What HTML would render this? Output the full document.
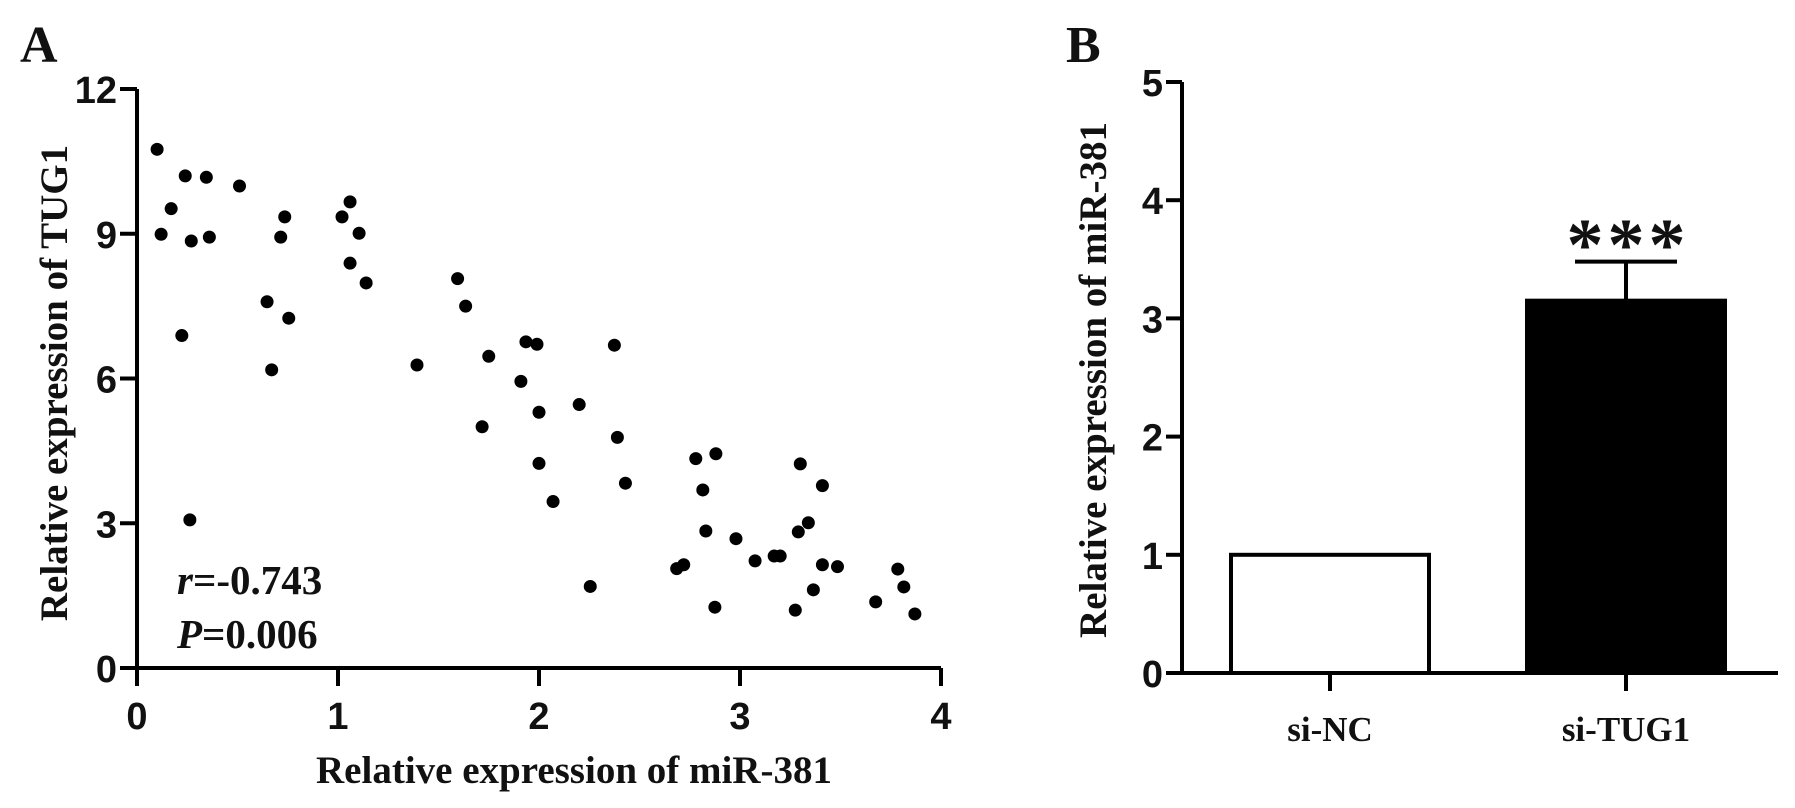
<!DOCTYPE html>
<html><head><meta charset="utf-8"><style>
html,body{margin:0;padding:0;background:#fff;}
svg{display:block;}
.tk{font-family:"Liberation Sans",Arial,sans-serif;font-weight:bold;font-size:38px;fill:#111;}
.tt{font-family:"Liberation Serif","Times New Roman",serif;font-weight:bold;fill:#111;}
</style></head><body>
<svg id="fig" width="1795" height="808" viewBox="0 0 1795 808" xmlns="http://www.w3.org/2000/svg">
<text x="20" y="62" class="tt" font-size="52">A</text>
<text x="1066" y="62" class="tt" font-size="52">B</text>
<g id="scatter"></g>
<g id="bars"></g>
</svg>
<script>
// ---- Panel A data ----
const sxVals = [0.10,0.24,0.345,0.51,0.17,0.12,0.27,0.36,1.06,1.02,0.735,0.715,1.105,1.06,1.14,0.647,0.755,0.223,0.67,0.263,
1.595,1.635,1.393,1.75,1.91,1.935,1.99,1.717,2.0,2.0,2.375,2.2,2.39,2.43,2.07,2.78,2.88,3.3,2.815,3.41,2.83,2.98,3.34,3.29,
2.685,2.72,3.075,3.17,3.2,3.41,3.485,3.365,2.255,2.875,3.275,3.675,3.785,3.815,3.87];
const syVals = [10.75,10.2,10.17,9.99,9.52,8.99,8.85,8.93,9.66,9.35,9.35,8.93,9.01,8.39,7.98,7.59,7.25,6.89,6.18,3.07,
8.07,7.50,6.28,6.46,5.94,6.76,6.71,5.0,5.3,4.24,6.69,5.46,4.78,3.83,3.45,4.34,4.44,4.23,3.69,3.78,2.84,2.68,3.01,2.82,
2.06,2.14,2.22,2.32,2.32,2.14,2.1,1.62,1.69,1.26,1.2,1.37,2.05,1.68,1.12];
const xTicks = [0,1,2,3,4];
const yTicks = [0,3,6,9,12];
// ---- Panel B data ----
const barCats = ["si-NC","si-TUG1"];
const barVals = [1.0,3.15];
const barErr = [0,0.33];
const barFill = ["#fff","#000"];
const bTicks = [0,1,2,3,4,5];

const NS="http://www.w3.org/2000/svg";
function mk(tag,attrs,parent){const e=document.createElementNS(NS,tag);for(const k in attrs)e.setAttribute(k,attrs[k]);parent.appendChild(e);return e;}

// Panel A
const A=document.getElementById('scatter');
const ax=v=>137+v*201, ay=v=>668-v*48.25;
let l=mk('line',{x1:137,y1:ay(12),x2:137,y2:668,stroke:'#000','stroke-width':4},A);


l=mk('line',{x1:137,y1:668,x2:ax(4),y2:668,stroke:'#000','stroke-width':4},A);


yTicks.forEach(v=>{
  const t=mk('line',{x1:120,y1:ay(v),x2:137,y2:ay(v),stroke:'#000','stroke-width':4},A);
  
  
  const tx=mk('text',{x:117,y:ay(v)+14,'text-anchor':'end',class:'tk'},A);tx.textContent=v;
  
  
});
xTicks.forEach(v=>{
  const t=mk('line',{x1:ax(v),y1:668,x2:ax(v),y2:686,stroke:'#000','stroke-width':4},A);
  
  
  const tx=mk('text',{x:ax(v),y:729,'text-anchor':'middle',class:'tk'},A);tx.textContent=v;
  
  
});
sxVals.forEach((v,i)=>{
  const c=mk('circle',{cx:ax(v),cy:ay(syVals[i]),r:6.5,fill:'#000'},A);
  
  
});
let t=mk('text',{x:574,y:783,'text-anchor':'middle',class:'tt','font-size':39},A);t.textContent='Relative expression of miR-381';


t=mk('text',{x:0,y:0,'text-anchor':'middle',class:'tt','font-size':39,transform:'translate(67,383) rotate(-90)'},A);t.textContent='Relative expression of TUG1';


t=mk('text',{x:177,y:594,class:'tt','font-size':41},A);
t.innerHTML='<tspan font-style="italic">r</tspan>=-0.743';


t=mk('text',{x:177,y:648,class:'tt','font-size':41},A);
t.innerHTML='<tspan font-style="italic">P</tspan>=0.006';



// Panel B
const B=document.getElementById('bars');
const by=v=>673-v*118.2;
const bx0=1182, catW=296, barW=198, firstC=1330;
l=mk('line',{x1:bx0,y1:by(5),x2:bx0,y2:673,stroke:'#000','stroke-width':4},B);


l=mk('line',{x1:bx0,y1:673,x2:1778,y2:673,stroke:'#000','stroke-width':4},B);


bTicks.forEach(v=>{
  const k=mk('line',{x1:1166,y1:by(v),x2:bx0,y2:by(v),stroke:'#000','stroke-width':4},B);
  
  
  const tx=mk('text',{x:1163,y:by(v)+14,'text-anchor':'end',class:'tk'},B);tx.textContent=v;
  
  
});
barCats.forEach((c,i)=>{
  const cx=firstC+i*catW;
  const r=mk('rect',{x:cx-barW/2,y:by(barVals[i]),width:barW,height:673-by(barVals[i]),fill:barFill[i],stroke:'#000','stroke-width':4},B);
  
  
  const k=mk('line',{x1:cx,y1:673,x2:cx,y2:691,stroke:'#000','stroke-width':4},B);
  
  
  const tx=mk('text',{x:cx,y:741,'text-anchor':'middle',class:'tt','font-size':35},B);tx.textContent=c;
  
  
  if(barErr[i]>0){
    const top=by(barVals[i]+barErr[i]);
    const e=mk('line',{x1:cx,y1:by(barVals[i]),x2:cx,y2:top,stroke:'#000','stroke-width':4},B);
    
    
    const cap=mk('line',{x1:cx-51,y1:top,x2:cx+51,y2:top,stroke:'#000','stroke-width':4},B);
    
    
    [-41,0,41].forEach(dx=>{
      const s=mk('text',{x:cx+dx,y:top+8,'text-anchor':'middle',class:'tt','font-size':74},B);s.textContent='*';
      
      
    });
  }
});
t=mk('text',{x:0,y:0,'text-anchor':'middle',class:'tt','font-size':39,transform:'translate(1106,380) rotate(-90)'},B);t.textContent='Relative expression of miR-381';


</script>
</body></html>
